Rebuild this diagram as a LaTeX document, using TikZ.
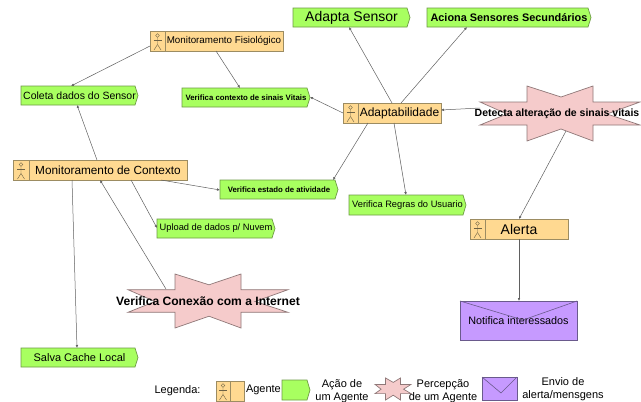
\documentclass[tikz,border=0pt]{standalone}
\usepackage{fontspec}
\setmainfont{Liberation Sans}
\usetikzlibrary{arrows.meta}
\definecolor{agentfill}{HTML}{FFD991}
\definecolor{agentline}{HTML}{9C8C62}
\definecolor{actfill}{HTML}{A8FF60}
\definecolor{actline}{HTML}{6E9A45}
\definecolor{starfill}{HTML}{F5CBCB}
\definecolor{starline}{HTML}{8F7878}
\definecolor{envfill}{HTML}{C69AFF}
\definecolor{envline}{HTML}{6A5A8C}
\definecolor{connline}{HTML}{606060}
\tikzset{
  every node/.style={inner sep=0pt,outer sep=0pt,text=black},
  agentbox/.style={draw=agentline,fill=agentfill,line width=0.7pt,anchor=north west},
  actbox/.style={anchor=north west},
  starbox/.style={anchor=north west},
  envbox/.style={draw=envline,fill=envfill,line width=0.7pt,anchor=north west},
  legendtext/.style={align=center,font=\fontsize{11}{13}\selectfont},
  conn/.style={draw=connline,line width=0.5pt,-{Latex[length=3pt,width=2.6pt]}}
}
% name x1 y1 x2 y2 divider textoffset font text
\newcommand{\agentnode}[9]{%
  \node[agentbox,minimum width={(#4-#2)*1pt},minimum height={(#5-#3)*1pt}] (#1) at (#2,#3)
    {\makebox[0pt]{\hspace*{#7pt}\fontsize{#8}{#8}\selectfont #9}};
  \draw[agentline,line width=0.7pt] (#6,#3) -- (#6,#5);
  \begin{scope}[shift={({(#2+#6)/2},#3)},draw=agentline!70!black,line width=0.4pt]
    \draw (0,4.5) circle (1.8pt);
    \draw (0,6.3) -- (0,13.5) -- (-3.5,19);
    \draw (0,13.5) -- (3.5,19);
    \draw (-4,9) -- (4,9);
  \end{scope}%
}
% name x1 y1 x2 y2 font text
\newcommand{\actnode}[7]{%
  \draw[actline,fill=actfill,line width=0.7pt] (#2,#3) -- ({#4-3},#3) -- (#4,{(#3+#5)/2}) -- ({#4-3},#5) -- (#2,#5) -- cycle;
  \node[actbox,minimum width={(#4-#2)*1pt},minimum height={(#5-#3)*1pt}] (#1) at (#2,#3) {\makebox[0pt]{\fontsize{#6}{#6}\selectfont #7}};%
}
% name x1 y1 w h font text
\newcommand{\starnode}[7]{%
  \begin{scope}[shift={(#2,#3)},xscale=#4/160,yscale=#5/55]
    \draw[starline,fill=starfill,line width=0.7pt]
      (0,16)--(47,16)--(47,0)--(81,11)--(113,0)--(113,16)--(160,16)--(127,28)--(160,39)--(113,39)--(113,55)--(81,43)--(47,55)--(47,39)--(0,39)--(27,28)--cycle;
  \end{scope}
  \node[starbox,minimum width={#4*1pt},minimum height={#5*1pt}] (#1) at (#2,#3) {\makebox[0pt]{\fontsize{#6}{#6}\selectfont #7}};%
}
\begin{document}
\begin{tikzpicture}[x=1pt,y=-1pt]
\clip (0,0) rectangle (641,402);
\fill[white] (0,0) rectangle (641,402);
% agents
\agentnode{mf}{150}{31}{283}{51}{165}{15}{9.8}{Monitoramento Fisiológico}
\agentnode{mc}{13}{160}{187}{180}{29}{16}{11.8}{Monitoramento de Contexto}
\agentnode{ad}{343}{103}{441}{123}{358}{15}{12}{Adaptabilidade}
\agentnode{al}{470}{219}{568}{239}{485}{0}{14}{Alerta}
% actions
\actnode{col}{21}{86}{138}{105}{10.5}{Coleta dados do Sensor}
\actnode{vc}{182}{88}{310}{107}{7.8}{\textbf{Verifica contexto de sinais Vitais}}
\actnode{ve}{220}{180}{338}{199}{7.8}{\textbf{Verifica estado de atividade}}
\actnode{as}{293}{8}{410}{27}{14}{Adapta Sensor}
\actnode{ac}{427}{8}{591}{27}{10.9}{\textbf{Aciona Sensores Secundários}}
\actnode{up}{157}{219}{275}{238}{9.3}{Upload de dados p/ Nuvem}
\actnode{vr}{349}{195}{466}{215}{9.3}{Verifica Regras do Usuario}
\actnode{sc}{21}{348}{138}{367}{11}{Salva Cache Local}
% perceptions
\starnode{de}{480}{86}{160}{55}{10.5}{\hspace*{-6pt}\textbf{Detecta alteração de sinais vitais}}
\starnode{vi}{128}{274}{160}{54}{12.1}{\textbf{Verifica Conexão com a Internet}}
% envelope
\node[envbox,minimum width=117pt,minimum height=39pt] (no) at (460,301)
  {\raisebox{-4pt}{\fontsize{10.8}{10.8}\selectfont Notifica interessados}};
\draw[envline,line width=0.6pt] (no.north west) -- (523,320) -- (no.north east);
% connectors
\draw[conn] ([shift={(0,15)}]mf.north west) -- ([shift={(50,0)}]col.north west);
\draw[conn] ([shift={(66,20)}]mf.north west) -- ([shift={(58,0)}]vc.north west);
\draw[conn] ([shift={(84,0)}]mc.north west) -- ([shift={(56,19)}]col.north west);
\draw[conn] ([shift={(148,20)}]mc.north west) -- ([shift={(0,10)}]ve.north west);
\draw[conn] ([shift={(59,20)}]mc.north west) -- ([shift={(56,0)}]sc.north west);
\draw[conn] ([shift={(118,20)}]mc.north west) -- ([shift={(0,9)}]up.north west);
\draw[conn] ([shift={(38,15)}]vi.north west) -- ([shift={(87,20)}]mc.north west);
\draw[conn] ([shift={(0,10)}]ad.north west) -- ([shift={(128,9)}]vc.north west);
\draw[conn] ([shift={(49,0)}]ad.north west) -- ([shift={(56,19)}]as.north west);
\draw[conn] ([shift={(58,0)}]ad.north west) -- ([shift={(40,19)}]ac.north west);
\draw[conn] ([shift={(0,22)}]de.north west) -- ([shift={(98,7)}]ad.north west);
\draw[conn] ([shift={(25,20)}]ad.north west) -- ([shift={(113,0)}]ve.north west);
\draw[conn] ([shift={(51,20)}]ad.north west) -- ([shift={(57,0)}]vr.north west);
\draw[conn] ([shift={(86,45)}]de.north west) -- ([shift={(49,0)}]al.north west);
\draw[conn] ([shift={(49,20)}]al.north west) -- ([shift={(59,0)}]no.north west);
% legend
\node[legendtext,anchor=center] (lg) at (177.5,391) {Legenda:};
\agentnode{la}{216}{381}{244}{401}{230}{0}{9}{}
\node[legendtext,anchor=west] (lat) at (246,390) {Agente};
\actnode{lb}{282}{380}{310}{400}{9}{}
\node[legendtext,anchor=center] (lbt) at (342,391) {Ação de\\um Agente};
\starnode{lc}{375}{378}{36}{22}{9}{}
\node[legendtext,anchor=center] (lct) at (443,391) {Percepção\\de um Agente};
\node[envbox,minimum width=35pt,minimum height=23pt] (ld) at (482,377) {};
\draw[envline,line width=0.6pt] (ld.north west) -- (501,393) -- (ld.north east);
\node[legendtext,anchor=center] (ldt) at (563,389.5) {Envio de\\alerta/mensgens};
\end{tikzpicture}
\end{document}
